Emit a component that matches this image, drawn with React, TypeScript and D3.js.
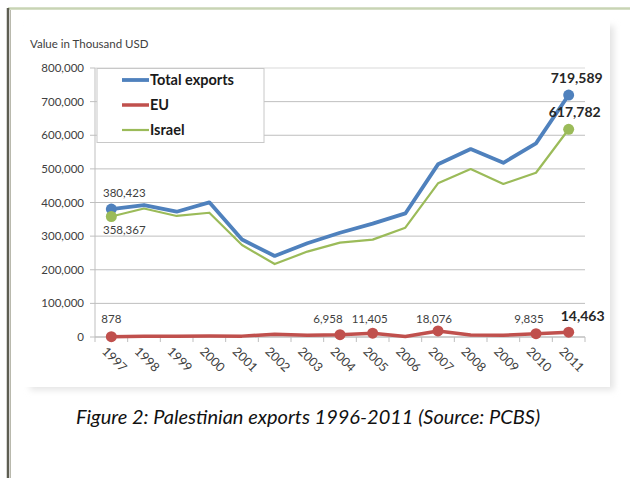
import React from "react";
import * as d3 from "d3";

const years = ["1997","1998","1999","2000","2001","2002","2003","2004","2005","2006","2007","2008","2009","2010","2011"];
const totalExports = [380423, 392500, 372600, 400500, 290000, 241000, 279000, 310000, 337000, 367500, 513500, 559000, 518000, 576000, 719589];
const israelExports = [358367, 382000, 360000, 369600, 273600, 217000, 254000, 280500, 289500, 325000, 457000, 499600, 455000, 488500, 617782];
const euExports = [878, 2200, 2600, 2800, 2600, 8500, 5500, 6958, 11405, 1500, 18076, 6000, 5000, 9835, 14463];
const yTicks = [0, 100000, 200000, 300000, 400000, 500000, 600000, 700000, 800000];

const FONT = "Lato, 'Open Sans', sans-serif";
const BLUE = "#4f81bd";
const RED = "#c0504d";
const GREEN = "#9bbb59";

export default function App() {
  const x = d3.scaleBand<string>().domain(years).range([95, 585]);
  const y = d3.scaleLinear().domain([0, 800000]).range([337, 68]);
  const cx = (yr: string) => (x(yr) as number) + x.bandwidth() / 2;
  const fmt = d3.format(",");
  const line = d3
    .line<number>()
    .x((_, i) => cx(years[i]))
    .y((v) => y(v));

  const euMarked = [0, 7, 8, 10, 13, 14];
  const euLabelDx: Record<number, number> = { 0: 0, 7: -12, 8: -3, 10: -4, 13: -7, 14: 14 };
  const last = years.length - 1;

  return (
    <svg
      width={630}
      height={478}
      style={{ position: "absolute", left: 0, top: 0, background: "#fff" }}
      fontFamily={FONT}
    >
      <defs>
        <filter id="boxShadow" x="-5%" y="-5%" width="110%" height="110%">
          <feGaussianBlur stdDeviation="3" />
        </filter>
      </defs>
      {/* page frame */}
      <line x1={8} x2={630} y1={8.5} y2={8.5} stroke="#c8d4b4" strokeWidth={2.5} />
      <line x1={8} x2={8} y1={8} y2={478} stroke="#5e5e52" strokeWidth={2.5} />
      <line x1={10.5} x2={10.5} y1={10} y2={478} stroke="#b9b9ad" strokeWidth={1} />

      {/* chart box with soft shadow */}
      <rect x={30} y={26} width={584} height={364} fill="#e4e4e4" filter="url(#boxShadow)" />
      <rect x={24} y={20} width={586} height={367} fill="#fff" />

      <text x={30} y={48} fontSize={11.5} fill="#404040">Value in Thousand USD</text>

      {/* gridlines */}
      {yTicks.map((t) => (
        <line key={t} x1={95} x2={585} y1={y(t)} y2={y(t)} stroke={t === 800000 ? "#d9d9d9" : "#bfbfbf"} strokeWidth={1} />
      ))}
      {/* y axis */}
      <line x1={95} x2={95} y1={68} y2={337} stroke="#bfbfbf" />
      {yTicks.map((t) => (
        <g key={"yt" + t}>
          <line x1={90} x2={95} y1={y(t)} y2={y(t)} stroke="#bfbfbf" />
          <text x={84} y={y(t)} dy="0.35em" textAnchor="end" fontSize={11.5} fill="#404040">
            {fmt(t)}
          </text>
        </g>
      ))}
      {/* x axis */}
      <line x1={95} x2={585} y1={337} y2={337} stroke="#bfbfbf" />
      {years.map((yr) => (
        <line key={"xt" + yr} x1={x(yr) as number} x2={x(yr) as number} y1={337} y2={342} stroke="#bfbfbf" />
      ))}
      <line x1={585} x2={585} y1={337} y2={342} stroke="#bfbfbf" />
      {years.map((yr) => (
        <text
          key={"xl" + yr}
          transform={`translate(${cx(yr) - 4},${346}) rotate(45)`}
          fontSize={12.5}
          fill="#404040"
          dy="0.7em"
        >
          {yr}
        </text>
      ))}

      {/* series */}
      <path d={line(israelExports) as string} fill="none" stroke={GREEN} strokeWidth={2.2} strokeLinejoin="round" />
      <path d={line(totalExports) as string} fill="none" stroke={BLUE} strokeWidth={3.8} strokeLinejoin="round" />
      <path d={line(euExports) as string} fill="none" stroke={RED} strokeWidth={3.5} strokeLinejoin="round" />

      {/* markers */}
      {[0, last].map((i) => (
        <g key={"m" + i}>
          <circle cx={cx(years[i])} cy={y(totalExports[i])} r={5.5} fill={BLUE} />
          <circle cx={cx(years[i])} cy={y(israelExports[i])} r={5.5} fill={GREEN} />
        </g>
      ))}
      {euMarked.map((i) => (
        <circle key={"eu" + i} cx={cx(years[i])} cy={y(euExports[i])} r={5.5} fill={RED} />
      ))}

      {/* data labels */}
      <text x={cx(years[0]) + 13} y={y(totalExports[0]) - 12} textAnchor="middle" fontSize={11.5} fill="#404040">
        {fmt(totalExports[0])}
      </text>
      <text x={cx(years[0]) + 13} y={y(israelExports[0]) + 18} textAnchor="middle" fontSize={11.5} fill="#404040">
        {fmt(israelExports[0])}
      </text>
      <text x={cx(years[last]) + 8} y={y(totalExports[last]) - 12} textAnchor="middle" fontSize={14} fontWeight="bold" fill="#262626">
        {fmt(totalExports[last])}
      </text>
      <text x={cx(years[last]) + 6} y={y(israelExports[last]) - 12} textAnchor="middle" fontSize={14} fontWeight="bold" fill="#262626">
        {fmt(israelExports[last])}
      </text>
      {euMarked.map((i) => (
        <text
          key={"eul" + i}
          x={cx(years[i]) + euLabelDx[i]}
          y={i === last ? 321 : 323}
          textAnchor="middle"
          fontSize={i === last ? 14 : 11.5}
          fontWeight={i === last ? "bold" : "normal"}
          fill={i === last ? "#262626" : "#404040"}
        >
          {fmt(euExports[i])}
        </text>
      ))}

      {/* legend */}
      <rect x={97} y={68.5} width={167} height={74} fill="#fff" stroke="#c8c8c8" />
      {[
        { name: "Total exports", color: BLUE, w: 3.8 },
        { name: "EU", color: RED, w: 3.5 },
        { name: "Israel", color: GREEN, w: 2.2 },
      ].map((s, i) => (
        <g key={s.name}>
          <line x1={122} x2={149} y1={80 + i * 25} y2={80 + i * 25} stroke={s.color} strokeWidth={s.w} />
          <text x={150} y={80 + i * 25} dy="0.36em" fontSize={14.5} fontWeight="bold" fill="#1a1a1a">
            {s.name}
          </text>
        </g>
      ))}

      {/* caption */}
      <text x={308} y={424} textAnchor="middle" fontSize={20} fontStyle="italic" fill="#111">
        Figure 2: Palestinian exports 1996-2011 (Source: PCBS)
      </text>
    </svg>
  );
}
